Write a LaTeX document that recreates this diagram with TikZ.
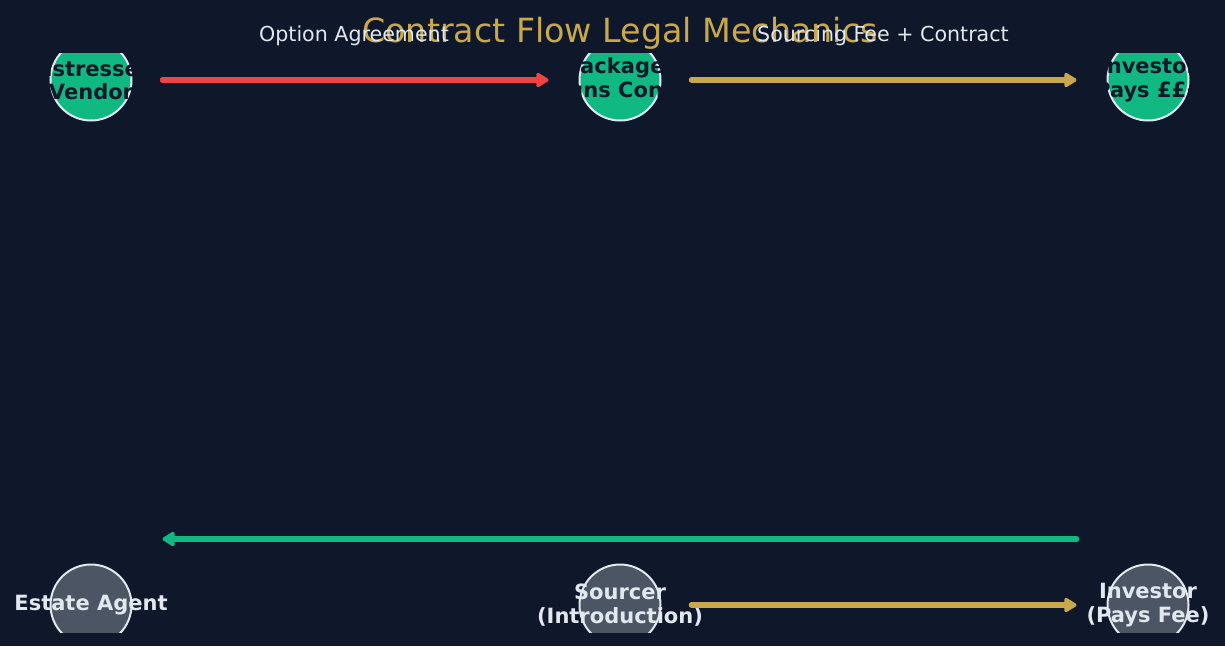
\documentclass[tikz,border=0pt]{standalone}
\usepackage{fontspec}
\setmainfont{DejaVu Sans}
\usepackage{tikz}
\usetikzlibrary{arrows.meta}

\definecolor{bgnavy}{HTML}{0F172A}
\definecolor{dealgreen}{HTML}{10B981}
\definecolor{partygrey}{HTML}{4B5563}
\definecolor{rimwhite}{HTML}{E2E8F0}
\definecolor{goldtone}{HTML}{C9A84C}
\definecolor{alertred}{HTML}{EF4444}

\tikzset{
  deal/.style={circle, draw=rimwhite, line width=2pt, fill=dealgreen, minimum size=81pt, inner sep=0pt},
  party/.style={deal, fill=partygrey},
  dealtext/.style={align=center, font=\fontsize{21}{23.5}\selectfont\bfseries, text=bgnavy},
  partytext/.style={dealtext, text=rimwhite},
  flow/.style={line width=5.5pt, line cap=round, shorten <=30pt, shorten >=30pt,
    -{Triangle[length=14pt,width=16pt,round]}},
  tag/.style={anchor=base, font=\fontsize{20.6}{24}\selectfont, text=rimwhite},
}

\begin{document}
\begin{tikzpicture}[x=1pt,y=-1pt]
	\fill[bgnavy] (0,0) rectangle (1225,646);
	\useasboundingbox (0,0) rectangle (1225,646);

	\node[anchor=base, font=\fontsize{33.3}{40}\selectfont, text=goldtone] (title) at (620,42) {Contract Flow Legal Mechanics};

	% top row: the option chain
	\begin{scope}
		\clip (0,53) rectangle (1225,646);
		\node[deal] (vendor)   at (91,80)   {};
		\node[deal] (packager) at (620,80)  {};
		\node[deal] (buyer)    at (1148,80) {};
	\end{scope}
	\foreach \who/\txt in {vendor/{Distressed\\Vendor}, packager/{Packager\\Assigns Contract}, buyer/{Investor\\Pays £££}}{
		\begin{scope}
			\clip (\who.west |- \who.south) rectangle (\who.east |- \who.north);
			\node[dealtext] (\who-txt) at (\who) {\txt};
		\end{scope}
	}

	\draw[flow, alertred] (vendor) -- (packager);
	\draw[flow, goldtone] (packager) -- (buyer);
	\node[tag] (option-tag)  at (354,41) {Option Agreement};
	\node[tag] (sourcing-tag) at (883,41) {Sourcing Fee + Contract};

	% bottom row: the introduction
	\begin{scope}
		\clip (0,0) rectangle (1225,632);
		\node[party] (agent)    at (91,605)   {};
		\node[party] (sourcer)  at (620,605)  {};
		\node[party] (investor) at (1148,605) {};
	\end{scope}
	\node[partytext] (agent-txt)    at (agent)    {Estate Agent};
	\node[partytext] (sourcer-txt)  at (sourcer)  {Sourcer\\(Introduction)};
	\node[partytext] (investor-txt) at (investor) {Investor\\(Pays Fee)};

	\draw[flow, goldtone] (sourcer) -- (investor);
	\draw[flow, dealgreen] ([yshift=66pt]investor.west) -- ([yshift=66pt]agent.east);
\end{tikzpicture}
\end{document}
